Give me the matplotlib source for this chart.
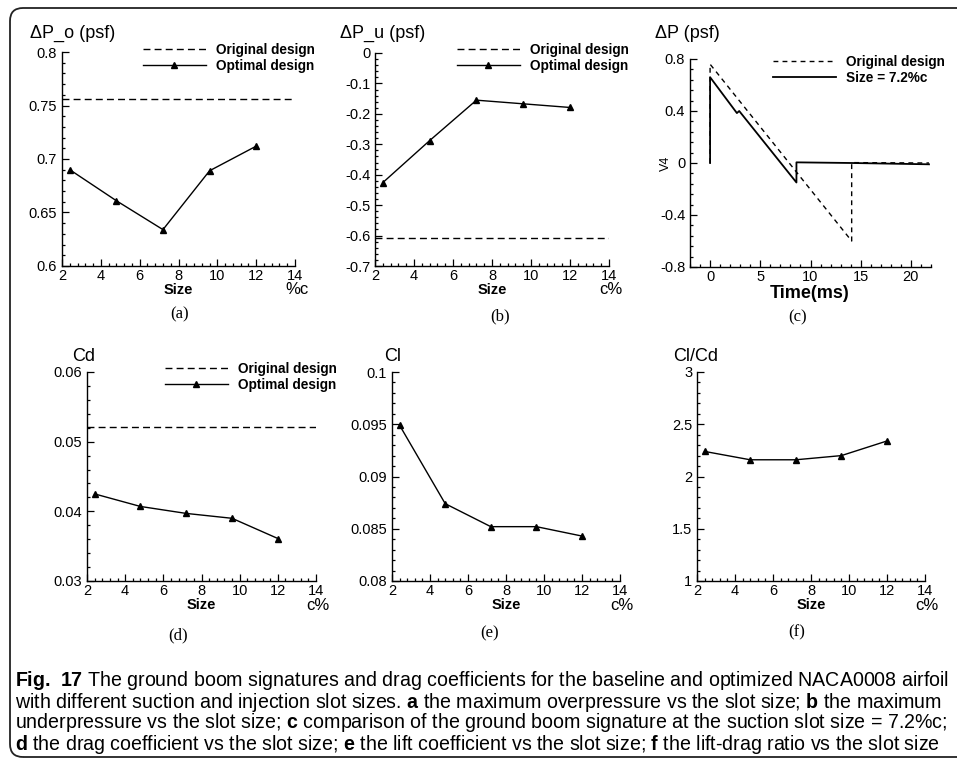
import matplotlib
matplotlib.use("Agg")
import matplotlib.pyplot as plt
from matplotlib import font_manager as fm
from matplotlib.ticker import MultipleLocator
from matplotlib.patches import FancyBboxPatch
from matplotlib.transforms import IdentityTransform

# slot size (% chord)
size = [2.4, 4.8, 7.2, 9.6, 12.0]

# (a) max overpressure
dp_over = [0.690, 0.661, 0.634, 0.689, 0.712]
dp_over_orig = 0.756
# (b) max underpressure
dp_under = [-0.426, -0.288, -0.155, -0.167, -0.179]
dp_under_orig = -0.607
# (c) ground boom signature
t_orig = [0.0, 0.0, 14.1, 14.1, 21.8]
p_orig = [0.0, 0.76, -0.60, 0.003, 0.0]
t_opt = [0.0, 0.0, 2.67, 2.9, 8.6, 8.6, 14.1, 21.8]
p_opt = [0.0, 0.66, 0.384, 0.40, -0.15, 0.005, 0.0, -0.01]
# (d) drag, (e) lift, (f) lift/drag
cd = [0.0425, 0.0407, 0.0397, 0.0390, 0.0361]
cd_orig = 0.0521
cl = [0.0949, 0.0874, 0.0852, 0.0852, 0.0843]
cl_cd = [2.24, 2.16, 2.16, 2.20, 2.34]

caption = [
    r"$\mathbf{Fig.\ 17}$ The ground boom signatures and drag coefficients for the baseline and optimized NACA0008 airfoil",
    r"with different suction and injection slot sizes. $\mathbf{a}$ the maximum overpressure vs the slot size; $\mathbf{b}$ the maximum",
    r"underpressure vs the slot size; $\mathbf{c}$ comparison of the ground boom signature at the suction slot size = 7.2%c;",
    r"$\mathbf{d}$ the drag coefficient vs the slot size; $\mathbf{e}$ the lift coefficient vs the slot size; $\mathbf{f}$ the lift-drag ratio vs the slot size",
]

names = {f.name for f in fm.fontManager.ttflist}
cap_font = "Liberation Sans Narrow" if "Liberation Sans Narrow" in names else "Liberation Sans"

plt.rcParams["font.family"] = ["Liberation Sans", "DejaVu Sans"]
plt.rcParams["mathtext.fontset"] = "custom"
plt.rcParams["mathtext.rm"] = cap_font
plt.rcParams["mathtext.bf"] = cap_font + ":bold"

W, H = 957, 767
fig = plt.figure(figsize=(W / 100, H / 100), dpi=100)


def px(x, y):
    return x / W, 1 - y / H


def make_axes(l, t, r, b, xlim, ylim, xmaj, ymaj):
    ax = fig.add_axes([l / W, 1 - b / H, (r - l) / W, (b - t) / H])
    ax.set_xlim(xlim)
    ax.set_ylim(ylim)
    ax.xaxis.set_major_locator(MultipleLocator(xmaj))
    ax.xaxis.set_minor_locator(MultipleLocator(xmaj / 5))
    ax.yaxis.set_major_locator(MultipleLocator(ymaj))
    ax.yaxis.set_minor_locator(MultipleLocator(ymaj / 5))
    ax.spines[["top", "right"]].set_visible(False)
    for s in ("left", "bottom"):
        ax.spines[s].set_linewidth(1.0)
    ax.tick_params(which="both", direction="in", width=0.9, labelsize=10.5)
    ax.tick_params(axis="x", pad=2.5)
    ax.tick_params(axis="y", pad=3.5)
    ax.tick_params(which="major", length=5)
    ax.tick_params(which="minor", length=2.5)
    ax.patch.set_alpha(0)
    return ax


def fmt(v, _):
    s = f"{v:.3f}".rstrip("0").rstrip(".")
    return "0" if s in ("-0", "") else s


def size_labels(ax, l, r, b, unit):
    fig.text(*px((l + r) / 2, b + 24), "Size", fontsize=10.5, fontweight="bold", ha="center", va="center")
    fig.text(*px(r + 2, b + 24), unit, fontsize=12, ha="center", va="center")


def legend(ax, handles, labels, x, y):
    ax.legend(handles, labels, loc="upper left", bbox_to_anchor=px(x, y), bbox_transform=fig.transFigure,
              frameon=False, borderpad=0, borderaxespad=0, handlelength=4.6, handletextpad=0.8,
              labelspacing=0.12, numpoints=1, prop={"weight": "bold", "size": 9.8})


line_kw = dict(color="black", lw=1.0, marker="^", ms=4.5)
dash_kw = dict(color="black", lw=1.0, ls=(0, (5, 3)))

# (a)
ax = make_axes(62, 52, 295, 266, (2, 14), (0.6, 0.8), 2, 0.05)
h1 = ax.axhline(dp_over_orig, **dash_kw)
h2, = ax.plot(size, dp_over, **line_kw)
ax.yaxis.set_major_formatter(fmt)
legend(ax, [h1, h2], ["Original design", "Optimal design"], 143, 43)
size_labels(ax, 62, 295, 266, "%c")
fig.text(*px(30, 33), "ΔP_o (psf)", fontsize=13, va="center")

# (b)
ax = make_axes(375, 53, 609, 266, (2, 14), (-0.7, 0), 2, 0.1)
h1 = ax.axhline(dp_under_orig, **dash_kw)
h2, = ax.plot(size, dp_under, **line_kw)
ax.yaxis.set_major_formatter(fmt)
legend(ax, [h1, h2], ["Original design", "Optimal design"], 457, 43)
size_labels(ax, 375, 609, 266, "c%")
fig.text(*px(340, 33), "ΔP_u (psf)", fontsize=13, va="center")

# (c)
ax = make_axes(690, 59, 931, 267, (-2, 22), (-0.8, 0.8), 5, 0.4)
h1, = ax.plot(t_orig, p_orig, color="black", lw=1.0, ls=(0, (3.5, 3)))
h2, = ax.plot(t_opt, p_opt, color="black", lw=1.3)
ax.yaxis.set_major_formatter(fmt)
legend(ax, [h1, h2], ["Original design", "Size = 7.2%c"], 773, 55)
fig.text(*px(810, 294), "Time(ms)", fontsize=13, fontweight="bold", ha="center", va="center")
fig.text(*px(666, 163), "V4", fontsize=9, rotation=90, ha="center", va="center")
fig.text(*px(655, 33), "ΔP (psf)", fontsize=13, va="center")

# (d)
ax = make_axes(87, 372, 316, 581, (2, 14), (0.03, 0.06), 2, 0.01)
h1 = ax.axhline(cd_orig, **dash_kw)
h2, = ax.plot(size, cd, **line_kw)
ax.yaxis.set_major_formatter(fmt)
legend(ax, [h1, h2], ["Original design", "Optimal design"], 165, 362)
size_labels(ax, 87, 316, 581, "c%")
fig.text(*px(72, 357), "Cd", fontsize=13, va="center")

# (e)
ax = make_axes(392, 372, 620, 581, (2, 14), (0.08, 0.1), 2, 0.005)
ax.plot(size, cl, **line_kw)
ax.yaxis.set_major_formatter(fmt)
size_labels(ax, 392, 620, 581, "c%")
fig.text(*px(384, 357), "Cl", fontsize=13, va="center")

# (f)
ax = make_axes(697, 372, 925, 581, (2, 14), (1, 3), 2, 0.5)
ax.plot(size, cl_cd, **line_kw)
ax.yaxis.set_major_formatter(fmt)
size_labels(ax, 697, 925, 581, "c%")
fig.text(*px(673, 357), "Cl/Cd", fontsize=13, va="center")

# sub-figure tags
for tag, x, y in [("(a)", 180, 314), ("(b)", 500, 316), ("(c)", 798, 317),
                  ("(d)", 178, 635), ("(e)", 490, 633), ("(f)", 797, 632)]:
    fig.text(*px(x, y), tag, fontsize=12, family="Liberation Serif", ha="center", va="center")

# caption, scaled so the first line spans the frame width
cap_y = [681, 702, 723, 745]
texts = [fig.text(*px(15, y), s, fontsize=12, family=cap_font, va="center") for s, y in zip(caption, cap_y)]
rend = fig.canvas.get_renderer()
w0 = texts[0].get_window_extent(rend).width
for t in texts:
    t.set_fontsize(12 * 935 / w0)

# outer rounded frame
frame = FancyBboxPatch((10, 10), 990, 749, boxstyle="round,pad=0,rounding_size=13",
                       transform=IdentityTransform(), fill=False, lw=1.3, ec="#222222")
fig.patches.append(frame)

fig.savefig("out.png", dpi=100)
